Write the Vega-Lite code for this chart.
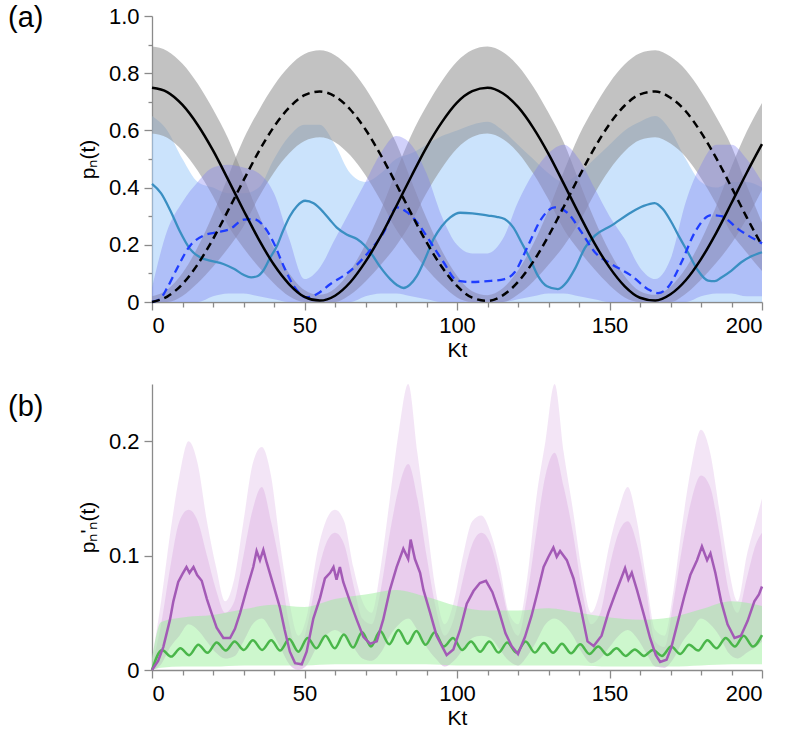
{
  "$schema": "https://vega.github.io/schema/vega-lite/v6.json",
  "padding": {"left": 8, "top": 4, "right": 8, "bottom": 4},
  "spacing": 24,
  "config": {
    "font": "Liberation Sans",
    "view": {"stroke": null},
    "axis": {
      "grid": false,
      "ticks": true,
      "domainColor": "#8a8a8a",
      "domainWidth": 1.3,
      "tickColor": "#8a8a8a",
      "tickWidth": 1.3,
      "labelFont": "Liberation Sans",
      "labelFontSize": 22,
      "labelColor": "#000",
      "titleFont": "Liberation Sans",
      "titleFontSize": 21,
      "titleFontWeight": "normal",
      "titleColor": "#000"
    },
    "axisX": {"labelPadding": 5, "titlePadding": 3},
    "axisY": {"labelPadding": 5, "titlePadding": 10},
    "title": {"font": "Liberation Sans", "fontSize": 29, "fontWeight": "normal", "color": "#000"}
  },
  "datasets": {
    "solid": [
      {"Kt": 0, "p": 0.749}, {"Kt": 5, "p": 0.734}, {"Kt": 10, "p": 0.689}, {"Kt": 15, "p": 0.619},
      {"Kt": 20, "p": 0.53}, {"Kt": 25, "p": 0.427}, {"Kt": 30, "p": 0.321}, {"Kt": 35, "p": 0.219},
      {"Kt": 40, "p": 0.13}, {"Kt": 45, "p": 0.062}, {"Kt": 50, "p": 0.018}, {"Kt": 55, "p": 0.005},
      {"Kt": 60, "p": 0.022}, {"Kt": 65, "p": 0.069}, {"Kt": 70, "p": 0.141}, {"Kt": 75, "p": 0.23},
      {"Kt": 80, "p": 0.333}, {"Kt": 85, "p": 0.439}, {"Kt": 90, "p": 0.541}, {"Kt": 95, "p": 0.628},
      {"Kt": 100, "p": 0.697}, {"Kt": 105, "p": 0.737}, {"Kt": 110, "p": 0.749}, {"Kt": 115, "p": 0.73},
      {"Kt": 120, "p": 0.682}, {"Kt": 125, "p": 0.609}, {"Kt": 130, "p": 0.518}, {"Kt": 135, "p": 0.414},
      {"Kt": 140, "p": 0.308}, {"Kt": 145, "p": 0.207}, {"Kt": 150, "p": 0.121}, {"Kt": 155, "p": 0.055},
      {"Kt": 160, "p": 0.015}, {"Kt": 165, "p": 0.005}, {"Kt": 170, "p": 0.027}, {"Kt": 175, "p": 0.076},
      {"Kt": 180, "p": 0.15}, {"Kt": 185, "p": 0.242}, {"Kt": 190, "p": 0.346}, {"Kt": 195, "p": 0.452},
      {"Kt": 200, "p": 0.552}
    ],
    "dashed": [
      {"Kt": 0, "p": 0.0}, {"Kt": 5, "p": 0.019}, {"Kt": 10, "p": 0.063}, {"Kt": 15, "p": 0.132},
      {"Kt": 20, "p": 0.22}, {"Kt": 25, "p": 0.321}, {"Kt": 30, "p": 0.425}, {"Kt": 35, "p": 0.526},
      {"Kt": 40, "p": 0.613}, {"Kt": 45, "p": 0.68}, {"Kt": 50, "p": 0.723}, {"Kt": 55, "p": 0.736},
      {"Kt": 60, "p": 0.719}, {"Kt": 65, "p": 0.673}, {"Kt": 70, "p": 0.603}, {"Kt": 75, "p": 0.514},
      {"Kt": 80, "p": 0.414}, {"Kt": 85, "p": 0.309}, {"Kt": 90, "p": 0.209}, {"Kt": 95, "p": 0.123},
      {"Kt": 100, "p": 0.056}, {"Kt": 105, "p": 0.015}, {"Kt": 110, "p": 0.004}, {"Kt": 115, "p": 0.023},
      {"Kt": 120, "p": 0.07}, {"Kt": 125, "p": 0.141}, {"Kt": 130, "p": 0.231}, {"Kt": 135, "p": 0.333},
      {"Kt": 140, "p": 0.438}, {"Kt": 145, "p": 0.537}, {"Kt": 150, "p": 0.622}, {"Kt": 155, "p": 0.687},
      {"Kt": 160, "p": 0.726}, {"Kt": 165, "p": 0.736}, {"Kt": 170, "p": 0.714}, {"Kt": 175, "p": 0.667},
      {"Kt": 180, "p": 0.593}, {"Kt": 185, "p": 0.503}, {"Kt": 190, "p": 0.401}, {"Kt": 195, "p": 0.296},
      {"Kt": 200, "p": 0.197}
    ],
    "grayS": [
      {"Kt": 0, "lo": 0.589, "hi": 0.893}, {"Kt": 5, "lo": 0.574, "hi": 0.878}, {"Kt": 10, "lo": 0.529, "hi": 0.833},
      {"Kt": 15, "lo": 0.459, "hi": 0.763}, {"Kt": 20, "lo": 0.37, "hi": 0.674}, {"Kt": 25, "lo": 0.267, "hi": 0.571},
      {"Kt": 30, "lo": 0.189, "hi": 0.44}, {"Kt": 35, "lo": 0.122, "hi": 0.306}, {"Kt": 40, "lo": 0.065, "hi": 0.189},
      {"Kt": 45, "lo": 0.02, "hi": 0.1}, {"Kt": 50, "lo": 0.0, "hi": 0.042}, {"Kt": 55, "lo": 0.0, "hi": 0.025},
      {"Kt": 60, "lo": 0.0, "hi": 0.047}, {"Kt": 65, "lo": 0.025, "hi": 0.109}, {"Kt": 70, "lo": 0.072, "hi": 0.203},
      {"Kt": 75, "lo": 0.13, "hi": 0.32}, {"Kt": 80, "lo": 0.196, "hi": 0.456}, {"Kt": 85, "lo": 0.279, "hi": 0.583},
      {"Kt": 90, "lo": 0.381, "hi": 0.685}, {"Kt": 95, "lo": 0.468, "hi": 0.772}, {"Kt": 100, "lo": 0.537, "hi": 0.841},
      {"Kt": 105, "lo": 0.577, "hi": 0.881}, {"Kt": 110, "lo": 0.589, "hi": 0.893}, {"Kt": 115, "lo": 0.57, "hi": 0.874},
      {"Kt": 120, "lo": 0.522, "hi": 0.826}, {"Kt": 125, "lo": 0.449, "hi": 0.753}, {"Kt": 130, "lo": 0.358, "hi": 0.662},
      {"Kt": 135, "lo": 0.254, "hi": 0.558}, {"Kt": 140, "lo": 0.18, "hi": 0.423}, {"Kt": 145, "lo": 0.115, "hi": 0.29},
      {"Kt": 150, "lo": 0.059, "hi": 0.177}, {"Kt": 155, "lo": 0.016, "hi": 0.09}, {"Kt": 160, "lo": 0.0, "hi": 0.038},
      {"Kt": 165, "lo": 0.0, "hi": 0.025}, {"Kt": 170, "lo": 0.0, "hi": 0.054}, {"Kt": 175, "lo": 0.029, "hi": 0.118},
      {"Kt": 180, "lo": 0.078, "hi": 0.215}, {"Kt": 185, "lo": 0.137, "hi": 0.336}, {"Kt": 190, "lo": 0.205, "hi": 0.473},
      {"Kt": 195, "lo": 0.292, "hi": 0.596}, {"Kt": 200, "lo": 0.392, "hi": 0.696}
    ],
    "grayD": [
      {"Kt": 0, "lo": 0.0, "hi": 0.02}, {"Kt": 5, "lo": 0.0, "hi": 0.043}, {"Kt": 10, "lo": 0.021, "hi": 0.101},
      {"Kt": 15, "lo": 0.066, "hi": 0.192}, {"Kt": 20, "lo": 0.123, "hi": 0.307}, {"Kt": 25, "lo": 0.189, "hi": 0.44},
      {"Kt": 30, "lo": 0.265, "hi": 0.569}, {"Kt": 35, "lo": 0.366, "hi": 0.67}, {"Kt": 40, "lo": 0.453, "hi": 0.757},
      {"Kt": 45, "lo": 0.52, "hi": 0.824}, {"Kt": 50, "lo": 0.563, "hi": 0.867}, {"Kt": 55, "lo": 0.576, "hi": 0.88},
      {"Kt": 60, "lo": 0.559, "hi": 0.863}, {"Kt": 65, "lo": 0.513, "hi": 0.817}, {"Kt": 70, "lo": 0.443, "hi": 0.747},
      {"Kt": 75, "lo": 0.354, "hi": 0.658}, {"Kt": 80, "lo": 0.254, "hi": 0.558}, {"Kt": 85, "lo": 0.181, "hi": 0.424},
      {"Kt": 90, "lo": 0.116, "hi": 0.293}, {"Kt": 95, "lo": 0.06, "hi": 0.18}, {"Kt": 100, "lo": 0.016, "hi": 0.092},
      {"Kt": 105, "lo": 0.0, "hi": 0.038}, {"Kt": 110, "lo": 0.0, "hi": 0.024}, {"Kt": 115, "lo": 0.0, "hi": 0.048},
      {"Kt": 120, "lo": 0.026, "hi": 0.11}, {"Kt": 125, "lo": 0.072, "hi": 0.203}, {"Kt": 130, "lo": 0.13, "hi": 0.322},
      {"Kt": 135, "lo": 0.196, "hi": 0.456}, {"Kt": 140, "lo": 0.278, "hi": 0.582}, {"Kt": 145, "lo": 0.377, "hi": 0.681},
      {"Kt": 150, "lo": 0.462, "hi": 0.766}, {"Kt": 155, "lo": 0.527, "hi": 0.831}, {"Kt": 160, "lo": 0.566, "hi": 0.87},
      {"Kt": 165, "lo": 0.576, "hi": 0.88}, {"Kt": 170, "lo": 0.554, "hi": 0.858}, {"Kt": 175, "lo": 0.507, "hi": 0.811},
      {"Kt": 180, "lo": 0.433, "hi": 0.737}, {"Kt": 185, "lo": 0.343, "hi": 0.647}, {"Kt": 190, "lo": 0.241, "hi": 0.545},
      {"Kt": 195, "lo": 0.172, "hi": 0.407}, {"Kt": 200, "lo": 0.108, "hi": 0.277}
    ],
    "lightblue": [
      {"Kt": 0, "lo": 0, "hi": 0.65}, {"Kt": 5, "lo": 0, "hi": 0.6}, {"Kt": 10, "lo": 0, "hi": 0.5}, {"Kt": 15, "lo": 0, "hi": 0.42},
      {"Kt": 20, "lo": 0, "hi": 0.4}, {"Kt": 25, "lo": 0, "hi": 0.38}, {"Kt": 30, "lo": 0, "hi": 0.38}, {"Kt": 35, "lo": 0, "hi": 0.4},
      {"Kt": 40, "lo": 0, "hi": 0.5}, {"Kt": 45, "lo": 0, "hi": 0.58}, {"Kt": 50, "lo": 0, "hi": 0.62}, {"Kt": 55, "lo": 0, "hi": 0.62},
      {"Kt": 60, "lo": 0, "hi": 0.55}, {"Kt": 65, "lo": 0, "hi": 0.45}, {"Kt": 70, "lo": 0, "hi": 0.42}, {"Kt": 75, "lo": 0, "hi": 0.45},
      {"Kt": 80, "lo": 0, "hi": 0.5}, {"Kt": 85, "lo": 0, "hi": 0.52}, {"Kt": 90, "lo": 0, "hi": 0.55}, {"Kt": 95, "lo": 0, "hi": 0.58},
      {"Kt": 100, "lo": 0, "hi": 0.6}, {"Kt": 105, "lo": 0, "hi": 0.62}, {"Kt": 110, "lo": 0, "hi": 0.63}, {"Kt": 115, "lo": 0, "hi": 0.6},
      {"Kt": 120, "lo": 0, "hi": 0.55}, {"Kt": 125, "lo": 0, "hi": 0.5}, {"Kt": 130, "lo": 0, "hi": 0.45}, {"Kt": 135, "lo": 0, "hi": 0.42},
      {"Kt": 140, "lo": 0, "hi": 0.45}, {"Kt": 145, "lo": 0, "hi": 0.5}, {"Kt": 150, "lo": 0, "hi": 0.55}, {"Kt": 155, "lo": 0, "hi": 0.6},
      {"Kt": 160, "lo": 0, "hi": 0.63}, {"Kt": 165, "lo": 0, "hi": 0.65}, {"Kt": 170, "lo": 0, "hi": 0.6}, {"Kt": 175, "lo": 0, "hi": 0.5},
      {"Kt": 180, "lo": 0, "hi": 0.42}, {"Kt": 185, "lo": 0, "hi": 0.4}, {"Kt": 190, "lo": 0, "hi": 0.42}, {"Kt": 195, "lo": 0, "hi": 0.42},
      {"Kt": 200, "lo": 0, "hi": 0.4}
    ],
    "midblue": [
      {"Kt": 0, "lo": 0, "hi": 0.05}, {"Kt": 5, "lo": 0, "hi": 0.25}, {"Kt": 10, "lo": 0, "hi": 0.35}, {"Kt": 15, "lo": 0, "hi": 0.42},
      {"Kt": 20, "lo": 0.02, "hi": 0.47}, {"Kt": 25, "lo": 0.03, "hi": 0.48}, {"Kt": 30, "lo": 0.03, "hi": 0.47}, {"Kt": 35, "lo": 0.02, "hi": 0.45},
      {"Kt": 40, "lo": 0.01, "hi": 0.38}, {"Kt": 45, "lo": 0, "hi": 0.22}, {"Kt": 50, "lo": 0, "hi": 0.08}, {"Kt": 55, "lo": 0, "hi": 0.12},
      {"Kt": 60, "lo": 0, "hi": 0.22}, {"Kt": 65, "lo": 0, "hi": 0.32}, {"Kt": 70, "lo": 0.02, "hi": 0.42}, {"Kt": 75, "lo": 0.03, "hi": 0.52},
      {"Kt": 80, "lo": 0.03, "hi": 0.58}, {"Kt": 85, "lo": 0.02, "hi": 0.55}, {"Kt": 90, "lo": 0.01, "hi": 0.45}, {"Kt": 95, "lo": 0, "hi": 0.3},
      {"Kt": 100, "lo": 0, "hi": 0.2}, {"Kt": 105, "lo": 0, "hi": 0.17}, {"Kt": 110, "lo": 0, "hi": 0.17}, {"Kt": 115, "lo": 0, "hi": 0.22},
      {"Kt": 120, "lo": 0.01, "hi": 0.35}, {"Kt": 125, "lo": 0.02, "hi": 0.45}, {"Kt": 130, "lo": 0.03, "hi": 0.52}, {"Kt": 135, "lo": 0.03, "hi": 0.55},
      {"Kt": 140, "lo": 0.02, "hi": 0.5}, {"Kt": 145, "lo": 0.01, "hi": 0.4}, {"Kt": 150, "lo": 0, "hi": 0.3}, {"Kt": 155, "lo": 0, "hi": 0.22},
      {"Kt": 160, "lo": 0, "hi": 0.12}, {"Kt": 165, "lo": 0, "hi": 0.08}, {"Kt": 170, "lo": 0, "hi": 0.15}, {"Kt": 175, "lo": 0, "hi": 0.35},
      {"Kt": 180, "lo": 0.02, "hi": 0.48}, {"Kt": 185, "lo": 0.03, "hi": 0.55}, {"Kt": 190, "lo": 0.03, "hi": 0.55}, {"Kt": 195, "lo": 0.02, "hi": 0.5},
      {"Kt": 200, "lo": 0.02, "hi": 0.42}
    ],
    "bluedash": [
      {"Kt": 0, "p": 0}, {"Kt": 2.6, "p": 0.01}, {"Kt": 5, "p": 0.05}, {"Kt": 8.1, "p": 0.115}, {"Kt": 12.5, "p": 0.197},
      {"Kt": 16.9, "p": 0.232}, {"Kt": 21.3, "p": 0.244}, {"Kt": 25.6, "p": 0.255}, {"Kt": 30, "p": 0.288}, {"Kt": 33.3, "p": 0.29},
      {"Kt": 36.5, "p": 0.267}, {"Kt": 39.8, "p": 0.209}, {"Kt": 43.1, "p": 0.127}, {"Kt": 46.4, "p": 0.057}, {"Kt": 50.8, "p": 0.016},
      {"Kt": 54.1, "p": 0.028}, {"Kt": 58.5, "p": 0.063}, {"Kt": 65, "p": 0.109}, {"Kt": 70.5, "p": 0.168}, {"Kt": 76, "p": 0.244},
      {"Kt": 80.3, "p": 0.331}, {"Kt": 83.6, "p": 0.314}, {"Kt": 86.9, "p": 0.279}, {"Kt": 91.3, "p": 0.209}, {"Kt": 95.6, "p": 0.139},
      {"Kt": 100, "p": 0.075}, {"Kt": 104.8, "p": 0.07}, {"Kt": 110, "p": 0.073}, {"Kt": 115.6, "p": 0.08}, {"Kt": 118.9, "p": 0.104},
      {"Kt": 123.3, "p": 0.197}, {"Kt": 127.6, "p": 0.29}, {"Kt": 132, "p": 0.331}, {"Kt": 136.4, "p": 0.31}, {"Kt": 140.8, "p": 0.244},
      {"Kt": 145.2, "p": 0.174}, {"Kt": 150.6, "p": 0.133}, {"Kt": 157.2, "p": 0.092}, {"Kt": 162.6, "p": 0.045}, {"Kt": 165.9, "p": 0.031},
      {"Kt": 169.2, "p": 0.052}, {"Kt": 173.6, "p": 0.139}, {"Kt": 178, "p": 0.244}, {"Kt": 183.4, "p": 0.304}, {"Kt": 186.7, "p": 0.3},
      {"Kt": 192.2, "p": 0.255}, {"Kt": 200, "p": 0.205}
    ],
    "steel": [
      {"Kt": 0, "p": 0.413}, {"Kt": 3, "p": 0.38}, {"Kt": 6, "p": 0.32}, {"Kt": 9, "p": 0.25}, {"Kt": 12.5, "p": 0.185},
      {"Kt": 16, "p": 0.155}, {"Kt": 19, "p": 0.145}, {"Kt": 23.4, "p": 0.133}, {"Kt": 27, "p": 0.115}, {"Kt": 30, "p": 0.095},
      {"Kt": 32.5, "p": 0.086}, {"Kt": 34.5, "p": 0.09}, {"Kt": 36.5, "p": 0.11}, {"Kt": 38.5, "p": 0.15}, {"Kt": 41, "p": 0.197},
      {"Kt": 43, "p": 0.25}, {"Kt": 45.2, "p": 0.3}, {"Kt": 47.5, "p": 0.335}, {"Kt": 50.2, "p": 0.354}, {"Kt": 53, "p": 0.345},
      {"Kt": 56.2, "p": 0.314}, {"Kt": 58.5, "p": 0.285}, {"Kt": 60.6, "p": 0.26}, {"Kt": 64, "p": 0.235}, {"Kt": 67.2, "p": 0.22},
      {"Kt": 69.5, "p": 0.2}, {"Kt": 71.6, "p": 0.174}, {"Kt": 75, "p": 0.12}, {"Kt": 78.1, "p": 0.08}, {"Kt": 80.5, "p": 0.058},
      {"Kt": 82.5, "p": 0.049}, {"Kt": 84.5, "p": 0.06}, {"Kt": 86.9, "p": 0.092}, {"Kt": 89.5, "p": 0.15}, {"Kt": 92.3, "p": 0.22},
      {"Kt": 95, "p": 0.265}, {"Kt": 97.8, "p": 0.296}, {"Kt": 101, "p": 0.312}, {"Kt": 105, "p": 0.31}, {"Kt": 110.2, "p": 0.302},
      {"Kt": 113, "p": 0.298}, {"Kt": 115.6, "p": 0.29}, {"Kt": 118.5, "p": 0.26}, {"Kt": 121.1, "p": 0.209}, {"Kt": 124, "p": 0.15},
      {"Kt": 126.5, "p": 0.092}, {"Kt": 129.5, "p": 0.055}, {"Kt": 133.1, "p": 0.045}, {"Kt": 136, "p": 0.07}, {"Kt": 138.6, "p": 0.115},
      {"Kt": 142, "p": 0.19}, {"Kt": 145.2, "p": 0.232}, {"Kt": 150.6, "p": 0.267}, {"Kt": 157.2, "p": 0.314}, {"Kt": 161, "p": 0.335},
      {"Kt": 164.8, "p": 0.346}, {"Kt": 167.5, "p": 0.325}, {"Kt": 170.3, "p": 0.279}, {"Kt": 173, "p": 0.225}, {"Kt": 175.7, "p": 0.174},
      {"Kt": 179, "p": 0.11}, {"Kt": 182.3, "p": 0.075}, {"Kt": 184.5, "p": 0.073}, {"Kt": 186.7, "p": 0.086}, {"Kt": 190, "p": 0.11},
      {"Kt": 193.2, "p": 0.139}, {"Kt": 196.5, "p": 0.16}, {"Kt": 200, "p": 0.174}
    ],
    "purpleBand": [
      {"Kt": 0, "lo": 0, "hi": 0.005, "top": 0.01}, {"Kt": 3, "lo": 0.005, "hi": 0.04, "top": 0.06}, {"Kt": 6, "lo": 0.02, "hi": 0.09, "top": 0.12},
      {"Kt": 9, "lo": 0.03, "hi": 0.13, "top": 0.17}, {"Kt": 12, "lo": 0.04, "hi": 0.14, "top": 0.2}, {"Kt": 15, "lo": 0.035, "hi": 0.13, "top": 0.18},
      {"Kt": 18, "lo": 0.025, "hi": 0.1, "top": 0.13}, {"Kt": 21, "lo": 0.015, "hi": 0.07, "top": 0.09}, {"Kt": 24, "lo": 0.01, "hi": 0.05, "top": 0.06},
      {"Kt": 27, "lo": 0.012, "hi": 0.06, "top": 0.08}, {"Kt": 30, "lo": 0.025, "hi": 0.1, "top": 0.13}, {"Kt": 33, "lo": 0.04, "hi": 0.14, "top": 0.18},
      {"Kt": 36, "lo": 0.045, "hi": 0.16, "top": 0.195}, {"Kt": 39, "lo": 0.035, "hi": 0.13, "top": 0.17}, {"Kt": 42, "lo": 0.02, "hi": 0.09, "top": 0.11},
      {"Kt": 45, "lo": 0.005, "hi": 0.04, "top": 0.06}, {"Kt": 48, "lo": 0, "hi": 0.015, "top": 0.03}, {"Kt": 51, "lo": 0.005, "hi": 0.04, "top": 0.05},
      {"Kt": 54, "lo": 0.02, "hi": 0.08, "top": 0.1}, {"Kt": 57, "lo": 0.03, "hi": 0.11, "top": 0.13}, {"Kt": 60, "lo": 0.035, "hi": 0.12, "top": 0.14},
      {"Kt": 63, "lo": 0.03, "hi": 0.11, "top": 0.13}, {"Kt": 66, "lo": 0.02, "hi": 0.075, "top": 0.09}, {"Kt": 69, "lo": 0.01, "hi": 0.045, "top": 0.06},
      {"Kt": 72, "lo": 0.008, "hi": 0.04, "top": 0.05}, {"Kt": 75, "lo": 0.015, "hi": 0.07, "top": 0.09}, {"Kt": 78, "lo": 0.03, "hi": 0.12, "top": 0.15},
      {"Kt": 81, "lo": 0.04, "hi": 0.16, "top": 0.21}, {"Kt": 84, "lo": 0.045, "hi": 0.18, "top": 0.25}, {"Kt": 87, "lo": 0.035, "hi": 0.15, "top": 0.19},
      {"Kt": 90, "lo": 0.02, "hi": 0.1, "top": 0.13}, {"Kt": 93, "lo": 0.01, "hi": 0.055, "top": 0.07}, {"Kt": 96, "lo": 0.003, "hi": 0.03, "top": 0.04},
      {"Kt": 99, "lo": 0.008, "hi": 0.045, "top": 0.06}, {"Kt": 102, "lo": 0.018, "hi": 0.08, "top": 0.1}, {"Kt": 105, "lo": 0.028, "hi": 0.11, "top": 0.13},
      {"Kt": 108, "lo": 0.03, "hi": 0.12, "top": 0.135}, {"Kt": 111, "lo": 0.028, "hi": 0.11, "top": 0.12}, {"Kt": 114, "lo": 0.018, "hi": 0.08, "top": 0.09},
      {"Kt": 117, "lo": 0.008, "hi": 0.045, "top": 0.05}, {"Kt": 120, "lo": 0.004, "hi": 0.03, "top": 0.04}, {"Kt": 123, "lo": 0.012, "hi": 0.065, "top": 0.08},
      {"Kt": 126, "lo": 0.025, "hi": 0.12, "top": 0.15}, {"Kt": 129, "lo": 0.04, "hi": 0.17, "top": 0.2}, {"Kt": 132, "lo": 0.045, "hi": 0.19, "top": 0.25},
      {"Kt": 135, "lo": 0.04, "hi": 0.16, "top": 0.19}, {"Kt": 138, "lo": 0.03, "hi": 0.12, "top": 0.14}, {"Kt": 141, "lo": 0.015, "hi": 0.07, "top": 0.085},
      {"Kt": 144, "lo": 0.006, "hi": 0.04, "top": 0.05}, {"Kt": 147, "lo": 0.01, "hi": 0.05, "top": 0.07}, {"Kt": 150, "lo": 0.02, "hi": 0.09, "top": 0.11},
      {"Kt": 153, "lo": 0.03, "hi": 0.12, "top": 0.14}, {"Kt": 156, "lo": 0.035, "hi": 0.13, "top": 0.16}, {"Kt": 159, "lo": 0.028, "hi": 0.11, "top": 0.13},
      {"Kt": 162, "lo": 0.015, "hi": 0.07, "top": 0.08}, {"Kt": 165, "lo": 0.003, "hi": 0.025, "top": 0.035}, {"Kt": 168, "lo": 0.002, "hi": 0.02, "top": 0.03},
      {"Kt": 171, "lo": 0.01, "hi": 0.06, "top": 0.07}, {"Kt": 174, "lo": 0.025, "hi": 0.11, "top": 0.13}, {"Kt": 177, "lo": 0.035, "hi": 0.15, "top": 0.18},
      {"Kt": 180, "lo": 0.045, "hi": 0.17, "top": 0.21}, {"Kt": 183, "lo": 0.04, "hi": 0.16, "top": 0.19}, {"Kt": 186, "lo": 0.03, "hi": 0.12, "top": 0.14},
      {"Kt": 189, "lo": 0.015, "hi": 0.07, "top": 0.09}, {"Kt": 192, "lo": 0.01, "hi": 0.05, "top": 0.06}, {"Kt": 195, "lo": 0.015, "hi": 0.08, "top": 0.1},
      {"Kt": 198, "lo": 0.02, "hi": 0.11, "top": 0.13}, {"Kt": 200, "lo": 0.025, "hi": 0.12, "top": 0.15}
    ],
    "greenBand": [
      {"Kt": 0, "lo": 0, "hi": 0.01}, {"Kt": 3, "lo": 0.002, "hi": 0.042}, {"Kt": 10, "lo": 0.003, "hi": 0.046}, {"Kt": 20, "lo": 0.003, "hi": 0.048},
      {"Kt": 30, "lo": 0.004, "hi": 0.053}, {"Kt": 40, "lo": 0.004, "hi": 0.057}, {"Kt": 50, "lo": 0.004, "hi": 0.055}, {"Kt": 60, "lo": 0.005, "hi": 0.062},
      {"Kt": 70, "lo": 0.005, "hi": 0.066}, {"Kt": 80, "lo": 0.005, "hi": 0.07}, {"Kt": 90, "lo": 0.005, "hi": 0.064}, {"Kt": 100, "lo": 0.004, "hi": 0.056},
      {"Kt": 110, "lo": 0.004, "hi": 0.052}, {"Kt": 120, "lo": 0.004, "hi": 0.052}, {"Kt": 130, "lo": 0.004, "hi": 0.054}, {"Kt": 140, "lo": 0.004, "hi": 0.05},
      {"Kt": 150, "lo": 0.003, "hi": 0.046}, {"Kt": 160, "lo": 0.003, "hi": 0.044}, {"Kt": 170, "lo": 0.003, "hi": 0.046}, {"Kt": 180, "lo": 0.004, "hi": 0.053},
      {"Kt": 190, "lo": 0.005, "hi": 0.06}, {"Kt": 200, "lo": 0.005, "hi": 0.056}
    ],
    "purple": [
      {"Kt": 0, "p": 0}, {"Kt": 2, "p": 0.008}, {"Kt": 3.7, "p": 0.02}, {"Kt": 5.9, "p": 0.044}, {"Kt": 7, "p": 0.06},
      {"Kt": 8.6, "p": 0.077}, {"Kt": 10, "p": 0.084}, {"Kt": 11.3, "p": 0.09}, {"Kt": 12.3, "p": 0.085}, {"Kt": 13.6, "p": 0.09},
      {"Kt": 14.8, "p": 0.083}, {"Kt": 16.3, "p": 0.078}, {"Kt": 18, "p": 0.062}, {"Kt": 19.5, "p": 0.05}, {"Kt": 21.2, "p": 0.037},
      {"Kt": 23.4, "p": 0.028}, {"Kt": 25.6, "p": 0.028}, {"Kt": 27.2, "p": 0.036}, {"Kt": 28.9, "p": 0.05}, {"Kt": 31, "p": 0.07},
      {"Kt": 33.2, "p": 0.09}, {"Kt": 34.3, "p": 0.104}, {"Kt": 35.4, "p": 0.096}, {"Kt": 36.5, "p": 0.105}, {"Kt": 37.6, "p": 0.094},
      {"Kt": 39.7, "p": 0.075}, {"Kt": 41.9, "p": 0.055}, {"Kt": 43.5, "p": 0.035}, {"Kt": 45.2, "p": 0.016}, {"Kt": 46.9, "p": 0.006},
      {"Kt": 49.1, "p": 0.005}, {"Kt": 50.7, "p": 0.016}, {"Kt": 52.9, "p": 0.045}, {"Kt": 55.1, "p": 0.063}, {"Kt": 56.7, "p": 0.08},
      {"Kt": 58.4, "p": 0.085}, {"Kt": 59.5, "p": 0.09}, {"Kt": 60.5, "p": 0.079}, {"Kt": 61.6, "p": 0.09}, {"Kt": 62.7, "p": 0.077},
      {"Kt": 64.9, "p": 0.06}, {"Kt": 67.1, "p": 0.044}, {"Kt": 69.3, "p": 0.029}, {"Kt": 71.5, "p": 0.023}, {"Kt": 73.7, "p": 0.025},
      {"Kt": 75.8, "p": 0.044}, {"Kt": 78, "p": 0.07}, {"Kt": 80.2, "p": 0.09}, {"Kt": 82.4, "p": 0.106}, {"Kt": 84, "p": 0.097},
      {"Kt": 84.8, "p": 0.114}, {"Kt": 86.2, "p": 0.097}, {"Kt": 87.9, "p": 0.085}, {"Kt": 89, "p": 0.07}, {"Kt": 91.2, "p": 0.05},
      {"Kt": 93.3, "p": 0.03}, {"Kt": 96.6, "p": 0.013}, {"Kt": 98.8, "p": 0.018}, {"Kt": 101, "p": 0.035}, {"Kt": 103.2, "p": 0.058},
      {"Kt": 105.4, "p": 0.069}, {"Kt": 107.5, "p": 0.076}, {"Kt": 109.5, "p": 0.078}, {"Kt": 111.6, "p": 0.068}, {"Kt": 113.8, "p": 0.051},
      {"Kt": 115.9, "p": 0.032}, {"Kt": 117.9, "p": 0.021}, {"Kt": 120, "p": 0.014}, {"Kt": 122.3, "p": 0.029}, {"Kt": 124.4, "p": 0.047},
      {"Kt": 126.4, "p": 0.068}, {"Kt": 128.4, "p": 0.09}, {"Kt": 130, "p": 0.099}, {"Kt": 131.6, "p": 0.107}, {"Kt": 132.7, "p": 0.099},
      {"Kt": 133.8, "p": 0.104}, {"Kt": 136, "p": 0.096}, {"Kt": 138.2, "p": 0.08}, {"Kt": 140.5, "p": 0.055}, {"Kt": 142.8, "p": 0.025},
      {"Kt": 144.8, "p": 0.021}, {"Kt": 147.4, "p": 0.03}, {"Kt": 149.6, "p": 0.05}, {"Kt": 151.8, "p": 0.066}, {"Kt": 154.1, "p": 0.082},
      {"Kt": 155.1, "p": 0.089}, {"Kt": 156.2, "p": 0.079}, {"Kt": 157.3, "p": 0.085}, {"Kt": 159, "p": 0.07}, {"Kt": 161.1, "p": 0.05},
      {"Kt": 163.3, "p": 0.028}, {"Kt": 165.2, "p": 0.013}, {"Kt": 166.6, "p": 0.007}, {"Kt": 168.7, "p": 0.009}, {"Kt": 170.3, "p": 0.02},
      {"Kt": 172.3, "p": 0.041}, {"Kt": 174.5, "p": 0.064}, {"Kt": 176.5, "p": 0.083}, {"Kt": 178.7, "p": 0.096}, {"Kt": 180.3, "p": 0.108},
      {"Kt": 182, "p": 0.096}, {"Kt": 183.1, "p": 0.102}, {"Kt": 184.7, "p": 0.085}, {"Kt": 186.6, "p": 0.06}, {"Kt": 188.7, "p": 0.04},
      {"Kt": 191, "p": 0.028}, {"Kt": 193.1, "p": 0.03}, {"Kt": 195.3, "p": 0.043}, {"Kt": 197.5, "p": 0.06}, {"Kt": 199, "p": 0.066},
      {"Kt": 200, "p": 0.073}
    ],
    "green": [
      {"Kt": 0, "p": 0}, {"Kt": 3.3, "p": 0.0175}, {"Kt": 6.3, "p": 0.0117}, {"Kt": 9.3, "p": 0.019}, {"Kt": 12.2, "p": 0.013},
      {"Kt": 15.2, "p": 0.022}, {"Kt": 18.2, "p": 0.015}, {"Kt": 21.2, "p": 0.024}, {"Kt": 24.2, "p": 0.017}, {"Kt": 27.1, "p": 0.025},
      {"Kt": 30.1, "p": 0.0175}, {"Kt": 33.1, "p": 0.026}, {"Kt": 36.1, "p": 0.0175}, {"Kt": 39.1, "p": 0.026}, {"Kt": 42, "p": 0.017},
      {"Kt": 45, "p": 0.027}, {"Kt": 48, "p": 0.016}, {"Kt": 51, "p": 0.028}, {"Kt": 53.9, "p": 0.019}, {"Kt": 56.9, "p": 0.03},
      {"Kt": 59.9, "p": 0.019}, {"Kt": 62.9, "p": 0.031}, {"Kt": 65.9, "p": 0.0196}, {"Kt": 68.9, "p": 0.033}, {"Kt": 71.8, "p": 0.0205},
      {"Kt": 74.8, "p": 0.034}, {"Kt": 77.8, "p": 0.0225}, {"Kt": 80.8, "p": 0.035}, {"Kt": 83.8, "p": 0.023}, {"Kt": 86.7, "p": 0.034},
      {"Kt": 89.7, "p": 0.022}, {"Kt": 92.7, "p": 0.033}, {"Kt": 95.7, "p": 0.0205}, {"Kt": 98.7, "p": 0.028}, {"Kt": 101.7, "p": 0.0175},
      {"Kt": 104.6, "p": 0.025}, {"Kt": 107.6, "p": 0.016}, {"Kt": 110.6, "p": 0.025}, {"Kt": 113.6, "p": 0.0152}, {"Kt": 116.5, "p": 0.024},
      {"Kt": 119.5, "p": 0.0152}, {"Kt": 122.5, "p": 0.025}, {"Kt": 125.5, "p": 0.0152}, {"Kt": 128.5, "p": 0.0235}, {"Kt": 131.5, "p": 0.015},
      {"Kt": 134.4, "p": 0.023}, {"Kt": 137.4, "p": 0.0146}, {"Kt": 140.4, "p": 0.0225}, {"Kt": 143.4, "p": 0.014}, {"Kt": 146.3, "p": 0.0205},
      {"Kt": 149.3, "p": 0.0132}, {"Kt": 152.3, "p": 0.019}, {"Kt": 155.3, "p": 0.0123}, {"Kt": 158.3, "p": 0.018}, {"Kt": 161.3, "p": 0.0123},
      {"Kt": 164.2, "p": 0.0175}, {"Kt": 167.2, "p": 0.0123}, {"Kt": 170.2, "p": 0.0205}, {"Kt": 173.2, "p": 0.014}, {"Kt": 176.1, "p": 0.022},
      {"Kt": 179.1, "p": 0.017}, {"Kt": 182.1, "p": 0.026}, {"Kt": 185.1, "p": 0.019}, {"Kt": 188.1, "p": 0.028}, {"Kt": 191.1, "p": 0.0205},
      {"Kt": 194, "p": 0.03}, {"Kt": 197, "p": 0.0205}, {"Kt": 200, "p": 0.0305}
    ]
  },
  "vconcat": [
    {
      "width": 610,
      "height": 286,
      "title": {"text": "(a)", "anchor": "start", "frame": "group", "orient": "top", "offset": 0, "dx": -144, "dy": 28},
      "encoding": {
        "x": {
          "field": "Kt", "type": "quantitative",
          "scale": {"domain": [0, 200], "nice": false},
          "axis": {
            "title": "Kt",
            "values": [0, 10, 20, 30, 40, 50, 60, 70, 80, 90, 100, 110, 120, 130, 140, 150, 160, 170, 180, 190, 200],
            "labelExpr": "datum.value % 50 == 0 ? datum.label : ''",
            "tickSize": {"condition": {"test": "datum.value % 50 == 0", "value": 8}, "value": 5}
          }
        }
      },
      "layer": [
        {
          "data": {"name": "lightblue"},
          "mark": {"type": "area", "interpolate": "monotone", "color": "#a9d1fa", "opacity": 0.6},
          "encoding": {
            "y": {
              "field": "lo", "type": "quantitative",
              "scale": {"domain": [0, 1], "nice": false},
              "axis": {"title": "pₙ(t)", "values": [0, 0.1, 0.2, 0.3, 0.4, 0.5, 0.6, 0.7, 0.8, 0.9, 1.0], "labelExpr": "datum.value == 0 ? '0' : (round(datum.value * 10) % 2 == 0 ? format(datum.value, '.1f') : '')", "tickSize": {"condition": {"test": "round(datum.value * 10) % 2 == 0", "value": 8}, "value": 4}}
            },
            "y2": {"field": "hi"}
          }
        },
        {
          "data": {"name": "grayS"},
          "mark": {"type": "area", "interpolate": "monotone", "color": "#8f8f8f", "opacity": 0.55},
          "encoding": {
            "y": {"field": "lo", "type": "quantitative", "axis": {"title": "pₙ(t)", "values": [0, 0.1, 0.2, 0.3, 0.4, 0.5, 0.6, 0.7, 0.8, 0.9, 1.0], "labelExpr": "datum.value == 0 ? '0' : (round(datum.value * 10) % 2 == 0 ? format(datum.value, '.1f') : '')", "tickSize": {"condition": {"test": "round(datum.value * 10) % 2 == 0", "value": 8}, "value": 4}}},
            "y2": {"field": "hi"}
          }
        },
        {
          "data": {"name": "grayD"},
          "mark": {"type": "area", "interpolate": "monotone", "color": "#8f8f8f", "opacity": 0.55},
          "encoding": {
            "y": {"field": "lo", "type": "quantitative", "axis": {"title": "pₙ(t)", "values": [0, 0.1, 0.2, 0.3, 0.4, 0.5, 0.6, 0.7, 0.8, 0.9, 1.0], "labelExpr": "datum.value == 0 ? '0' : (round(datum.value * 10) % 2 == 0 ? format(datum.value, '.1f') : '')", "tickSize": {"condition": {"test": "round(datum.value * 10) % 2 == 0", "value": 8}, "value": 4}}},
            "y2": {"field": "hi"}
          }
        },
        {
          "data": {"name": "midblue"},
          "mark": {"type": "area", "interpolate": "monotone", "color": "#7b7cf0", "opacity": 0.35},
          "encoding": {
            "y": {"field": "lo", "type": "quantitative", "axis": {"title": "pₙ(t)", "values": [0, 0.1, 0.2, 0.3, 0.4, 0.5, 0.6, 0.7, 0.8, 0.9, 1.0], "labelExpr": "datum.value == 0 ? '0' : (round(datum.value * 10) % 2 == 0 ? format(datum.value, '.1f') : '')", "tickSize": {"condition": {"test": "round(datum.value * 10) % 2 == 0", "value": 8}, "value": 4}}},
            "y2": {"field": "hi"}
          }
        },
        {
          "data": {"name": "steel"},
          "mark": {"type": "line", "interpolate": "monotone", "color": "#3a8fc2", "strokeWidth": 2.3},
          "encoding": {"y": {"field": "p", "type": "quantitative", "axis": {"title": "pₙ(t)", "values": [0, 0.1, 0.2, 0.3, 0.4, 0.5, 0.6, 0.7, 0.8, 0.9, 1.0], "labelExpr": "datum.value == 0 ? '0' : (round(datum.value * 10) % 2 == 0 ? format(datum.value, '.1f') : '')", "tickSize": {"condition": {"test": "round(datum.value * 10) % 2 == 0", "value": 8}, "value": 4}}}}
        },
        {
          "data": {"name": "bluedash"},
          "mark": {"type": "line", "interpolate": "monotone", "color": "#1f3dff", "strokeWidth": 2.3, "strokeDash": [8, 5]},
          "encoding": {"y": {"field": "p", "type": "quantitative", "axis": {"title": "pₙ(t)", "values": [0, 0.1, 0.2, 0.3, 0.4, 0.5, 0.6, 0.7, 0.8, 0.9, 1.0], "labelExpr": "datum.value == 0 ? '0' : (round(datum.value * 10) % 2 == 0 ? format(datum.value, '.1f') : '')", "tickSize": {"condition": {"test": "round(datum.value * 10) % 2 == 0", "value": 8}, "value": 4}}}}
        },
        {
          "data": {"name": "dashed"},
          "mark": {"type": "line", "interpolate": "monotone", "color": "#000000", "strokeWidth": 2.5, "strokeDash": [8, 5]},
          "encoding": {"y": {"field": "p", "type": "quantitative", "axis": {"title": "pₙ(t)", "values": [0, 0.1, 0.2, 0.3, 0.4, 0.5, 0.6, 0.7, 0.8, 0.9, 1.0], "labelExpr": "datum.value == 0 ? '0' : (round(datum.value * 10) % 2 == 0 ? format(datum.value, '.1f') : '')", "tickSize": {"condition": {"test": "round(datum.value * 10) % 2 == 0", "value": 8}, "value": 4}}}}
        },
        {
          "data": {"name": "solid"},
          "mark": {"type": "line", "interpolate": "monotone", "color": "#000000", "strokeWidth": 2.5},
          "encoding": {"y": {"field": "p", "type": "quantitative", "axis": {"title": "pₙ(t)", "values": [0, 0.1, 0.2, 0.3, 0.4, 0.5, 0.6, 0.7, 0.8, 0.9, 1.0], "labelExpr": "datum.value == 0 ? '0' : (round(datum.value * 10) % 2 == 0 ? format(datum.value, '.1f') : '')", "tickSize": {"condition": {"test": "round(datum.value * 10) % 2 == 0", "value": 8}, "value": 4}}}}
        }
      ]
    },
    {
      "width": 610,
      "height": 286,
      "title": {"text": "(b)", "anchor": "start", "frame": "group", "orient": "top", "offset": 0, "dx": -144, "dy": 38},
      "encoding": {
        "x": {
          "field": "Kt", "type": "quantitative",
          "scale": {"domain": [0, 200], "nice": false},
          "axis": {
            "title": "Kt",
            "values": [0, 10, 20, 30, 40, 50, 60, 70, 80, 90, 100, 110, 120, 130, 140, 150, 160, 170, 180, 190, 200],
            "labelExpr": "datum.value % 50 == 0 ? datum.label : ''",
            "tickSize": {"condition": {"test": "datum.value % 50 == 0", "value": 8}, "value": 5}
          }
        }
      },
      "layer": [
        {
          "data": {"name": "purpleBand"},
          "mark": {"type": "area", "interpolate": "monotone", "color": "#e2bde9", "opacity": 0.4},
          "encoding": {
            "y": {
              "field": "lo", "type": "quantitative",
              "scale": {"domain": [0, 0.25], "nice": false},
              "axis": {"title": "pₙ'ₙ(t)", "values": [0, 0.1, 0.2], "tickSize": 8, "labelExpr": "datum.value == 0 ? '0' : format(datum.value, '.1f')"}
            },
            "y2": {"field": "top"}
          }
        },
        {
          "data": {"name": "purpleBand"},
          "mark": {"type": "area", "interpolate": "monotone", "color": "#d9a9e1", "opacity": 0.4},
          "encoding": {
            "y": {"field": "lo", "type": "quantitative", "axis": {"title": "pₙ'ₙ(t)", "values": [0, 0.1, 0.2], "tickSize": 8, "labelExpr": "datum.value == 0 ? '0' : format(datum.value, '.1f')"}},
            "y2": {"field": "hi"}
          }
        },
        {
          "data": {"name": "greenBand"},
          "mark": {"type": "area", "interpolate": "monotone", "color": "#9cf09c", "opacity": 0.5},
          "encoding": {
            "y": {"field": "lo", "type": "quantitative", "axis": {"title": "pₙ'ₙ(t)", "values": [0, 0.1, 0.2], "tickSize": 8, "labelExpr": "datum.value == 0 ? '0' : format(datum.value, '.1f')"}},
            "y2": {"field": "hi"}
          }
        },
        {
          "data": {"name": "green"},
          "mark": {"type": "line", "interpolate": "monotone", "color": "#4ab64a", "strokeWidth": 2.5},
          "encoding": {"y": {"field": "p", "type": "quantitative", "axis": {"title": "pₙ'ₙ(t)", "values": [0, 0.1, 0.2], "tickSize": 8, "labelExpr": "datum.value == 0 ? '0' : format(datum.value, '.1f')"}}}
        },
        {
          "data": {"name": "purple"},
          "mark": {"type": "line", "interpolate": "linear", "color": "#a35ab6", "strokeWidth": 2.5},
          "encoding": {"y": {"field": "p", "type": "quantitative", "axis": {"title": "pₙ'ₙ(t)", "values": [0, 0.1, 0.2], "tickSize": 8, "labelExpr": "datum.value == 0 ? '0' : format(datum.value, '.1f')"}}}
        }
      ]
    }
  ]
}
